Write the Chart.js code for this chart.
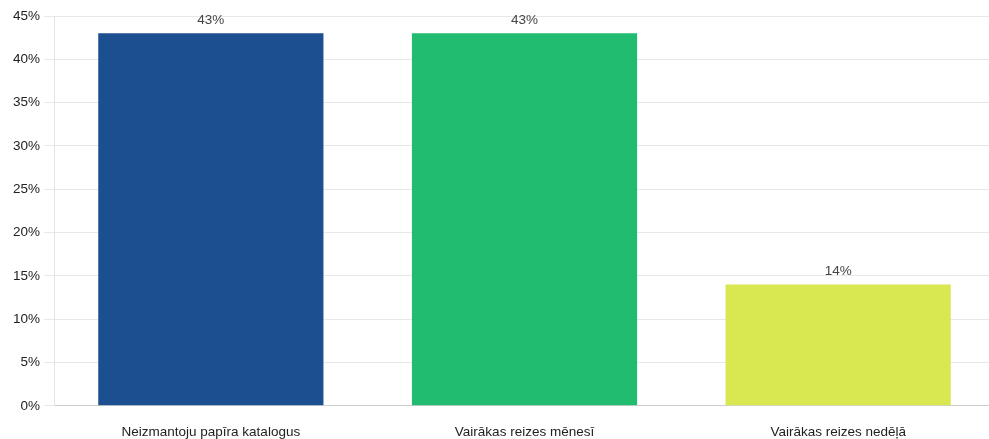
<!DOCTYPE html>
<html>
<head>
<meta charset="utf-8">
<script src="https://cdn.jsdelivr.net/npm/chart.js@4"></script>
<style>
    html, body { margin: 0; padding: 0; background: #fff; overflow: hidden; }
    #wrap { width: 995px; height: 460px; }
</style>
</head>
<body>
<div id="wrap"><canvas id="catalogChart"></canvas></div>
<script>
const categories = ['Neizmantoju papīra katalogus', 'Vairākas reizes mēnesī', 'Vairākas reizes nedēļā'];
const shares = [43, 43, 14];
const barColors = ['#1c4f8f', '#21bc6f', '#d9e851'];
const yTicks = [0, 5, 10, 15, 20, 25, 30, 35, 40, 45];

// value labels above each bar
const valueLabels = {
    id: 'valueLabels',
    afterDatasetsDraw(chart) {
        const ctx = chart.ctx;
        const meta = chart.getDatasetMeta(0);
        ctx.save();
        ctx.font = '13.5px "Liberation Sans", Arial, sans-serif';
        ctx.fillStyle = '#444';
        ctx.textAlign = 'center';
        ctx.textBaseline = 'bottom';
        meta.data.forEach((bar, i) => {
            ctx.fillText(shares[i] + '%', bar.x, bar.y - 6);
        });
        ctx.restore();
    }
};

new Chart(document.getElementById('catalogChart'), {
    type: 'bar',
    data: {
        labels: categories,
        datasets: [{
            data: shares,
            backgroundColor: barColors,
            barPercentage: 0.718,
            categoryPercentage: 1
        }]
    },
    options: {
        responsive: true,
        maintainAspectRatio: false,
        animation: false,
        layout: { padding: { top: 16, left: 9, right: 0, bottom: 2 } },
        plugins: { legend: { display: false }, tooltip: { enabled: false } },
        scales: {
            x: {
                grid: { display: false, drawTicks: false },
                border: { color: '#cfcfcf' },
                ticks: {
                    padding: 18,
                    color: '#222',
                    font: { family: '"Liberation Sans", Arial, sans-serif', size: 13.5 }
                }
            },
            y: {
                min: 0,
                max: 45,
                afterBuildTicks: axis => { axis.ticks = yTicks.map(v => ({ value: v })); },
                grid: { color: '#e8e8e8', tickLength: 10 },
                border: { color: '#e4e4e4' },
                ticks: {
                    padding: 4,
                    color: '#222',
                    font: { family: '"Liberation Sans", Arial, sans-serif', size: 13.5 },
                    callback: v => v + '%'
                }
            }
        }
    },
    plugins: [valueLabels]
});
</script>
</body>
</html>
